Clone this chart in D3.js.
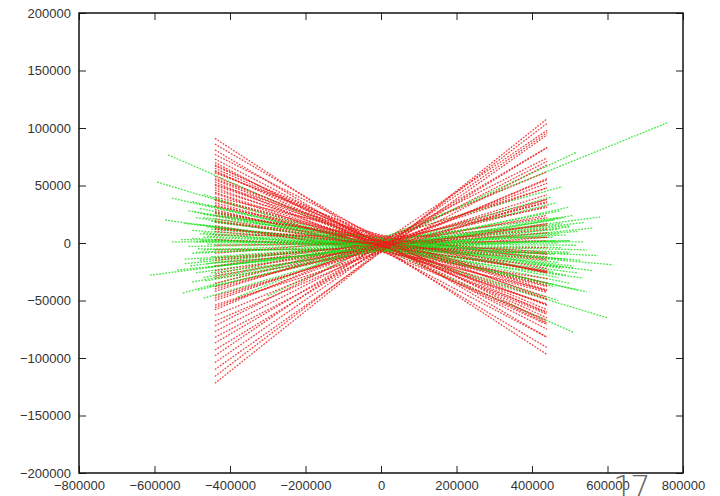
<!DOCTYPE html>
<html><head><meta charset="utf-8">
<script src="https://cdn.jsdelivr.net/npm/d3@7"></script>
<style>html,body{margin:0;padding:0;background:#fff;}svg{display:block;}</style>
</head><body><svg id="c" width="720" height="496"></svg>
<script>
// x tick labels, y tick labels
const xTicks = [-800000,-600000,-400000,-200000,0,200000,400000,600000,800000];
const yTicks = [-200000,-150000,-100000,-50000,0,50000,100000,150000,200000];
// red series: left y (at x=-440000) and right y (at x=440000)
const redX = [-440000, 440000];
const redLeftY = [91000,86000,81000,77000,73000,70000,67000,65000,63000,61000,58000,56000,53000,51000,48000,46000,43000,40000,37000,35000,32000,29000,27000,24000,21000,18000,15000,12000,10000,7000,3000,-2000,-6000,-9000,-13000,-17000,-20000,-24000,-27000,-31000,-35000,-38000,-42000,-46000,-50000,-54000,-58000,-63000,-68000,-72000,-77000,-82000,-87000,-93000,-98000,-104000,-110000,-116000,-122000,
  68000,62000,55000,50000,44000,38000,33000,26000,19000,13000,-15000,-29000,-40000,-48000,-56000];
const redRightY = [-97000,-82000,-91000,-69000,-75000,-82000,-61000,-65000,-71000,-49000,-62000,-54000,-67000,-41000,-54000,-42000,-53000,-26000,-37000,-43000,-26000,-41000,-25000,-14000,-25000,-10000,-31000,-8000,-12000,5000,-9000,2000,-4000,15000,9000,5000,22000,16000,31000,17000,35000,32000,48000,36000,48000,38000,62000,55000,56000,74000,71000,68000,83000,83000,98000,96000,94000,104000,108000,
  -70000,-58000,-60000,-47000,-49000,-35000,-38000,-22000,-24000,-15000,12000,24000,38000,42000,52000];
// green series: segments from (x1, y1) to (x2, y2)
const greenX1 = [-564000,-593000,-554000,-572000,-554000,-540000,-612000,-525000,-380000,-300000,-450000,-470000,-500000,-460000,-480000,-510000,-470000,-490000,-450000,-520000,-460000,-500000,-480000,-470000,-530000,-490000,-460000,-510000,-470000,-500000,-450000,-480000,-520000,-460000,-490000,-470000,-500000,-455000,-485000,-470000,-440000,-430000,-460000,
  -470000,-490000,-460000,-500000,-480000,-450000,-520000,-470000,-495000,-465000,-475000,-505000,-440000,-485000];
const greenY1 = [76700,53000,39000,20000,900,-23500,-28000,-43500,-47000,-46000,12000,42000,36000,33000,30000,28000,25000,22000,19000,17000,14000,11000,8000,5000,3000,1000,-1000,-3000,-6000,-9000,-12000,-15000,-18000,-21000,-26000,-30000,-34000,-38000,-41000,-48000,18000,-20000,6000,
  22000,-8000,-18000,4000,16000,-26000,-14000,9000,27000,-33000,2000,-20000,26000,-5000];
const greenX2 = [509000,599000,545000,535000,535000,562000,580000,480000,758000,519000,615000,470000,460000,520000,500000,470000,490000,455000,480000,510000,470000,530000,460000,500000,480000,520000,470000,500000,455000,490000,520000,470000,500000,480000,460000,510000,475000,495000,465000,450000,560000,540000,575000,
  480000,500000,470000,490000,520000,500000,460000,480000,510000,485000,545000,470000,455000,500000];
const greenY2 = [-77500,-65000,-42500,-30500,900,13000,22600,49000,104500,79000,-19000,-50000,-38000,-41000,-35000,-30000,-28000,-25000,-22000,-20000,-17000,-15000,-10000,-8000,-4000,-2000,0,2000,5000,7000,10000,12000,15000,17000,20000,24000,28000,31000,35000,40000,-24000,18000,-11000,
  -14000,2000,8000,-14000,-26000,14000,2000,-21000,-22000,22000,-6000,22000,-36000,-9000];

const svg = d3.select('#c');
const L = 79, R = 683, T = 13, B = 473;
const x = d3.scaleLinear().domain([-800000, 800000]).range([L, R]);
const y = d3.scaleLinear().domain([-200000, 200000]).range([B, T]);

const g = svg.append('g');
const reds = redLeftY.map((v, i) => ({c: 'red', x1: redX[0], y1: v, x2: redX[1], y2: redRightY[i]}));
const greens = greenX1.map((v, i) => ({c: 'green', x1: v, y1: greenY1[i], x2: greenX2[i], y2: greenY2[i]}));
const all = [];
const n = Math.max(reds.length, greens.length);
for (let i = 0; i < n; i++) {
  if (i < reds.length) all.push(reds[i]);
  if (i < greens.length) all.push(greens[i]);
}
g.selectAll('line').data(all).join('line')
  .attr('x1', d => x(d.x1)).attr('y1', d => y(d.y1))
  .attr('x2', d => x(d.x2)).attr('y2', d => y(d.y2))
  .attr('stroke', d => d.c === 'red' ? '#ee1c1c' : '#14e014')
  .attr('stroke-width', 1.3)
  .attr('stroke-opacity', 0.8)
  .attr('stroke-dasharray', '1.8,1.3');

const font = 'Liberation Sans, Arial, sans-serif';
const ax = svg.append('g').attr('transform', `translate(0,${B})`)
  .call(d3.axisBottom(x).tickValues(xTicks).tickSize(-7).tickPadding(8).tickFormat(d3.format('d')));
const ay = svg.append('g').attr('transform', `translate(${L},0)`)
  .call(d3.axisLeft(y).tickValues(yTicks).tickSize(-7).tickPadding(8).tickFormat(d3.format('d')));
const at = svg.append('g').attr('transform', `translate(0,${T})`)
  .call(d3.axisTop(x).tickValues(xTicks).tickSize(-7).tickFormat(''));
const ar = svg.append('g').attr('transform', `translate(${R},0)`)
  .call(d3.axisRight(y).tickValues(yTicks).tickSize(-7).tickFormat(''));
[ax, ay, at, ar].forEach(a => {
  a.select('.domain').remove();
  a.selectAll('.tick line').attr('stroke', '#222').attr('stroke-width', 1);
  a.selectAll('text').attr('font-family', font).attr('font-size', 13).attr('fill', '#333');
});
svg.append('rect').attr('x', L).attr('y', T).attr('width', R - L).attr('height', B - T)
  .attr('fill', 'none').attr('stroke', '#111').attr('stroke-width', 1.5);

svg.append('text').attr('x', 613).attr('y', 498).text('17')
  .attr('font-family', 'DejaVu Sans, sans-serif').attr('font-size', 32)
  .attr('font-weight', 300).attr('fill', '#666').attr('letter-spacing', -3);
</script></body></html>
